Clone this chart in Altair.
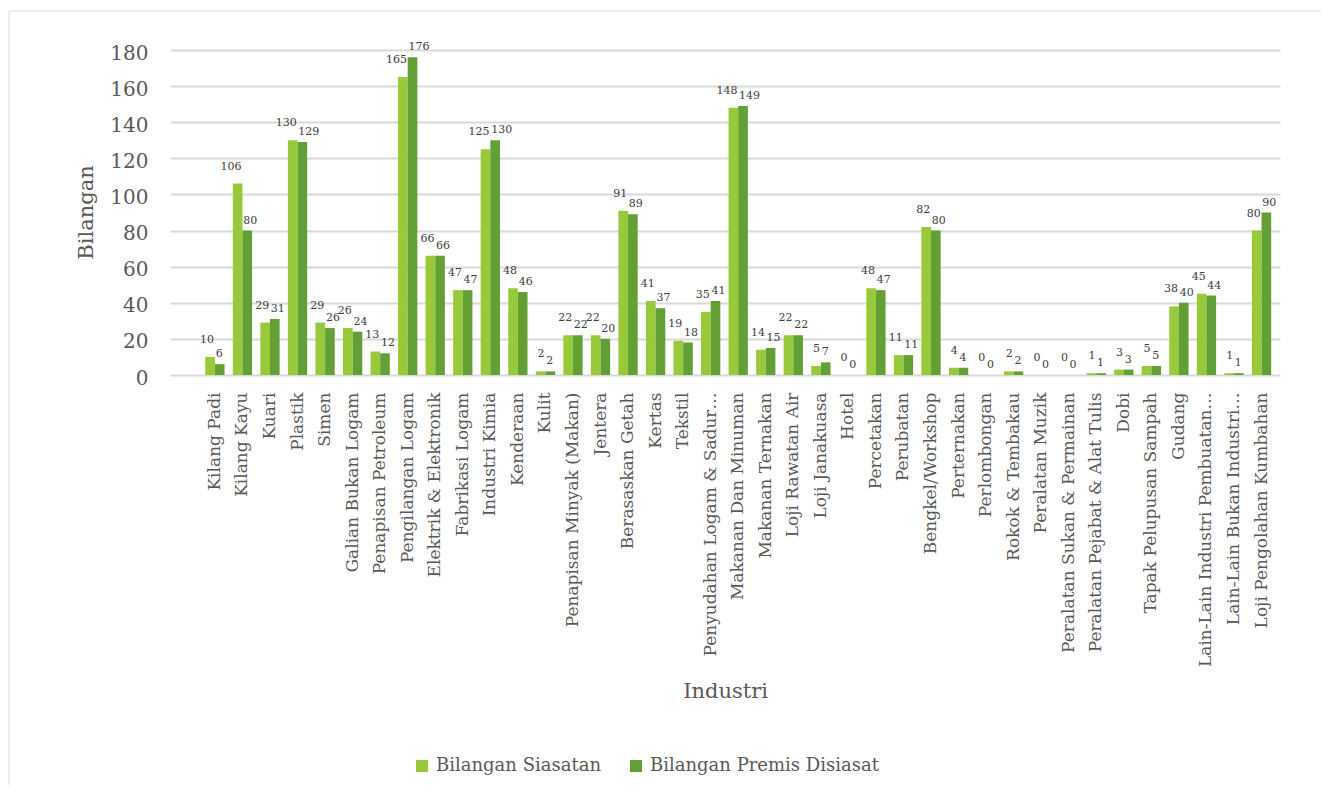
import altair as alt
import pandas as pd

categories = [
    "Kilang Padi", "Kilang Kayu", "Kuari", "Plastik", "Simen", "Galian Bukan Logam",
    "Penapisan Petroleum", "Pengilangan Logam", "Elektrik & Elektronik", "Fabrikasi Logam",
    "Industri Kimia", "Kenderaan", "Kulit", "Penapisan Minyak (Makan)", "Jentera",
    "Berasaskan Getah", "Kertas", "Tekstil", "Penyudahan Logam & Sadur…",
    "Makanan Dan Minuman", "Makanan Ternakan", "Loji Rawatan Air", "Loji Janakuasa",
    "Hotel", "Percetakan", "Perubatan", "Bengkel/Workshop", "Perternakan", "Perlombongan",
    "Rokok & Tembakau", "Peralatan Muzik", "Peralatan Sukan & Permainan",
    "Peralatan Pejabat & Alat Tulis", "Dobi", "Tapak Pelupusan Sampah", "Gudang",
    "Lain-Lain Industri Pembuatan…", "Lain-Lain Bukan Industri…", "Loji Pengolahan Kumbahan",
]
siasatan = [10, 106, 29, 130, 29, 26, 13, 165, 66, 47, 125, 48, 2, 22, 22, 91, 41, 19, 35, 148,
            14, 22, 5, 0, 48, 11, 82, 4, 0, 2, 0, 0, 1, 3, 5, 38, 45, 1, 80]
premis = [6, 80, 31, 129, 26, 24, 12, 176, 66, 47, 130, 46, 2, 22, 20, 89, 37, 18, 41, 149,
          15, 22, 7, 0, 47, 11, 80, 4, 0, 2, 0, 0, 1, 3, 5, 40, 44, 1, 90]
series_names = ["Bilangan Siasatan", "Bilangan Premis Disiasat"]
y_ticks = [0, 20, 40, 60, 80, 100, 120, 140, 160, 180]

rows = []
for i, c in enumerate(categories):
    rows.append({"Industri": c, "Siri": series_names[0], "Bilangan": siasatan[i]})
    rows.append({"Industri": c, "Siri": series_names[1], "Bilangan": premis[i]})
df = pd.DataFrame(rows)

FONT = "DejaVu Serif"
TXT = "#595959"

x_scale = alt.Scale(paddingInner=0.3, paddingOuter=0.8, align=0.8)
y_scale = alt.Scale(domain=[0, 180], nice=False)
off_scale = alt.Scale(paddingInner=0, paddingOuter=0)

x_axis = alt.Axis(labelAngle=-90, labelAlign="right", labelBaseline="middle",
                  labelPadding=17, labelFontSize=17, labelColor=TXT, labelFont=FONT,
                  labelLimit=400, labelOverlap=False, ticks=False, domain=False,
                  titleFontSize=21, titleFont=FONT, titleColor=TXT, titleFontWeight="normal",
                  titleY=322, titleBaseline="alphabetic")
y_axis = alt.Axis(values=y_ticks, labelFontSize=20, labelFont=FONT, labelColor=TXT,
                  labelPadding=22, labelOverlap=False, labelOffset=3, ticks=False, domain=False,
                  gridColor="#D9D9D9", gridWidth=2,
                  titleFontSize=21, titleFont=FONT, titleColor=TXT, titleFontWeight="normal",
                  titleX=-84, titleY=162, titleAngle=270, titleBaseline="middle",
                  titleAlign="center")

def x_enc():
    return alt.X("Industri:N", sort=categories, title="Industri", scale=x_scale, axis=x_axis)

def y_enc():
    return alt.Y("Bilangan:Q", title="Bilangan", scale=y_scale, axis=y_axis)

color_enc = alt.Color(
    "Siri:N", sort=series_names,
    scale=alt.Scale(domain=series_names, range=["#97C93A", "#62A035"]),
    legend=alt.Legend(orient="none", direction="horizontal", legendX=243, legendY=707,
                      title=None, symbolType="square", symbolSize=144,
                      symbolStrokeWidth=0, labelFontSize=18, labelFont=FONT,
                      labelColor=TXT, labelOffset=5, labelLimit=400,
                      columnPadding=26, padding=0),
)

base = alt.Chart(df)

bars = base.mark_bar().encode(
    x=x_enc(),
    xOffset=alt.XOffset("Siri:N", sort=series_names, scale=off_scale),
    y=y_enc(),
    color=color_enc,
)

def label_layer(name, align, dx, dy):
    return base.transform_filter(alt.datum.Siri == name).mark_text(
        font=FONT, fontSize=11, color="#404040", baseline="middle",
        align=align, dy=dy, dx=dx
    ).encode(
        x=x_enc(),
        xOffset=alt.XOffset("Siri:N", sort=series_names, scale=off_scale),
        y=y_enc(),
        text="Bilangan:Q",
    )

labels_a = label_layer(series_names[0], "right", 4, -17)
labels_b = label_layer(series_names[1], "left", -4, -10)

one = pd.DataFrame({"a": [0]})
border_left = alt.Chart(one).mark_rule(color="#D9D9D9", strokeWidth=1).encode(
    x=alt.value(-161), y=alt.value(-39), y2=alt.value(800))
border_top = alt.Chart(one).mark_rule(color="#D9D9D9", strokeWidth=1).encode(
    x=alt.value(-161), x2=alt.value(1200), y=alt.value(-39))

chart = alt.layer(bars, labels_a, labels_b, border_left, border_top).properties(
    width=1110, height=325,
    autosize=alt.AutoSizeParams(type="none"),
    padding={"left": 162, "top": 42, "right": 41, "bottom": 410},
).configure_view(strokeWidth=0, stroke="transparent")

chart.save("out.html", embed_options={"renderer": "svg", "actions": False})
